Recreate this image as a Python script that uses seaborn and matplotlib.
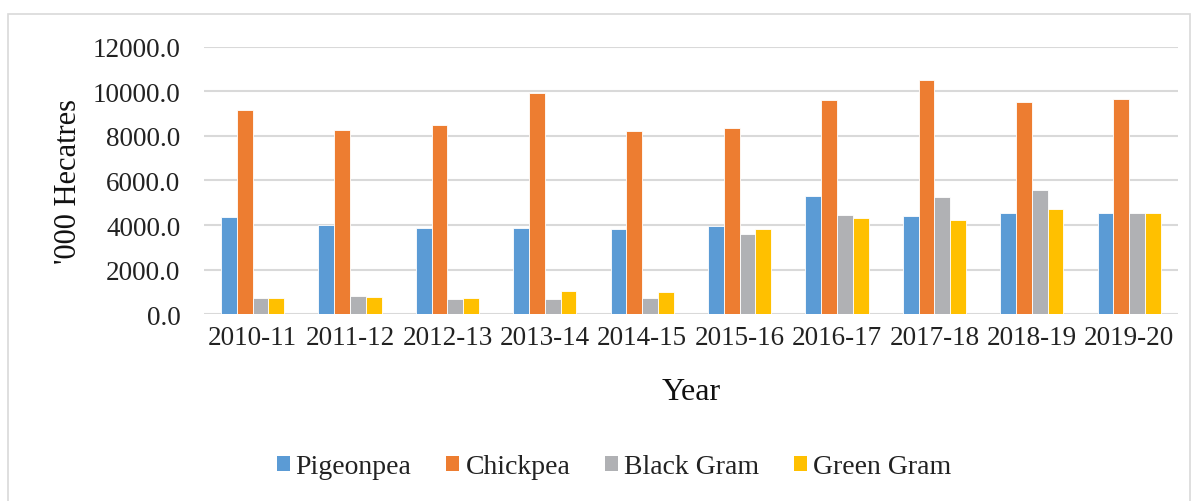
import matplotlib
matplotlib.use("Agg")
import matplotlib.pyplot as plt
from matplotlib.patches import Rectangle
import seaborn as sns
import pandas as pd

years = ["2010-11", "2011-12", "2012-13", "2013-14", "2014-15",
         "2015-16", "2016-17", "2017-18", "2018-19", "2019-20"]
pigeonpea = [4340, 4000, 3865, 3865, 3836, 3940, 5313, 4403, 4537, 4522]
chickpea = [9160, 8280, 8490, 9910, 8240, 8373, 9597, 10522, 9522, 9672]
black_gram = [730, 835, 670, 690, 746, 3597, 4448, 5254, 5567, 4522]
green_gram = [750, 775, 730, 1030, 985, 3806, 4299, 4224, 4731, 4552]

crops = ["Pigeonpea", "Chickpea", "Black Gram", "Green Gram"]
colors = ["#5B9BD5", "#ED7D31", "#B0B1B4", "#FFC000"]

series = dict(zip(crops, [pigeonpea, chickpea, black_gram, green_gram]))
df = pd.DataFrame(
    [(y, c, v) for c in crops for y, v in zip(years, series[c])],
    columns=["Year", "Crop", "Area"],
)

sns.set_theme(style="white")
plt.rcParams["font.family"] = ["Liberation Serif", "DejaVu Serif"]

fig = plt.figure(figsize=(11.97, 5.02), dpi=100)
ax = fig.add_axes([0.1704, 0.372, 0.8136, 0.533])

sns.barplot(data=df, x="Year", y="Area", hue="Crop", hue_order=crops,
            palette=colors, saturation=1, width=0.65, gap=0, ax=ax,
            edgecolor="white", linewidth=0.6, legend=False, zorder=3)

ax.set_ylim(0, 12000)
ax.set_yticks(range(0, 12001, 2000))
ax.set_yticklabels([f"{v:.1f}" for v in range(0, 12001, 2000)])
ax.yaxis.grid(True, color="#D9D9D9", linewidth=1.5, zorder=0)
ax.set_axisbelow(True)
for s in ax.spines.values():
    s.set_visible(False)
ax.tick_params(axis="y", length=0, pad=17, labelsize=19.5, labelcolor="#222222")
ax.tick_params(axis="x", length=0, pad=8, labelsize=19.5, labelcolor="#222222")
ax.set_xlim(-0.5, len(years) - 0.5)

ax.set_ylabel("'000 Hecatres", fontsize=22, color="#111111")
ax.yaxis.set_label_coords(-0.124, 0.5)
ax.set_xlabel("Year", fontsize=23, color="#111111")
ax.xaxis.set_label_coords(0.5, -0.235)

handles = [Rectangle((0, 0), 1, 1, facecolor=c, edgecolor="none") for c in colors]
fig.legend(handles, crops, loc="center", bbox_to_anchor=(614 / 1197, 1 - 468 / 502),
           ncol=4, frameon=False, fontsize=20, handlelength=0.47, handleheight=0.47,
           handletextpad=0.22, columnspacing=1.25, labelcolor="#222222")

fig.patches.append(Rectangle((8 / 1197, -0.01), 1182 / 1197, 1 - 15 / 502 + 0.01,
                             transform=fig.transFigure, fill=False,
                             edgecolor="#D9D9D9", linewidth=1.2))

fig.savefig("out.png", dpi=100)
